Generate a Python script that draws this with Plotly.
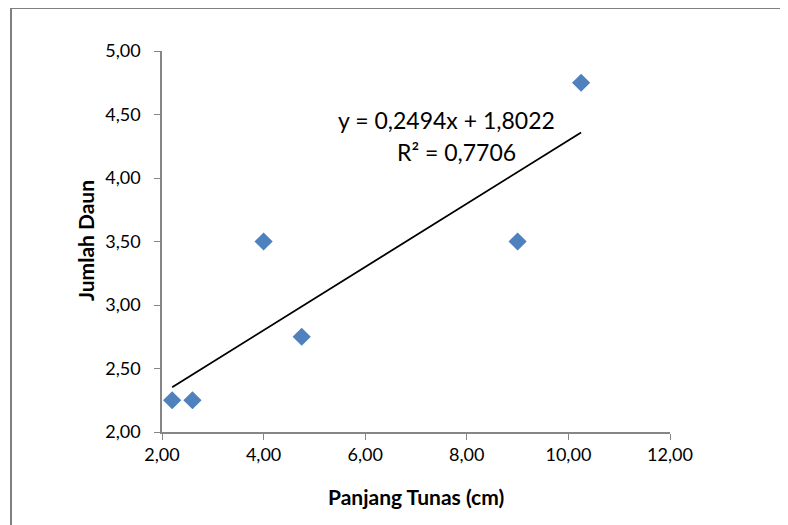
import numpy as np
import plotly.graph_objects as go

# Data
panjang_tunas = [2.2, 2.6, 4.0, 4.75, 9.0, 10.25]
jumlah_daun = [2.25, 2.25, 3.5, 2.75, 3.5, 4.75]
x_ticks = [2, 4, 6, 8, 10, 12]
y_ticks = [2.0, 2.5, 3.0, 3.5, 4.0, 4.5, 5.0]

slope, intercept = np.polyfit(panjang_tunas, jumlah_daun, 1)
trend_x = [min(panjang_tunas), max(panjang_tunas)]
trend_y = [slope * v + intercept for v in trend_x]

FONT = "Lato"
OFF = 8  # page body margin
W, H = 788, 525
# plot area in page pixels
PL, PR, PT, PB = 162, 670, 51, 432
L = PL - OFF
T = PT - OFF
R = W - (PR - OFF)
B = H - (PB - OFF)
pw, ph = PR - PL, PB - PT

def px_x(p):
    return (p - PL) / pw

def px_y(p):
    return (PB - p) / ph

fig = go.Figure()
fig.add_trace(go.Scatter(
    x=trend_x, y=trend_y, mode="lines",
    line=dict(color="black", width=1.8), showlegend=False, hoverinfo="skip"))
fig.add_trace(go.Scatter(
    x=panjang_tunas, y=jumlah_daun, mode="markers",
    marker=dict(symbol="diamond", size=14, color="#4F81BD",
                line=dict(width=0)), showlegend=False))

eq = "y = 0,2494x + 1,8022"
r2txt = "R² = 0,7706"
fig.add_annotation(x=px_x(446), y=px_y(120), xref="paper", yref="paper",
                   xanchor="center", yanchor="middle",
                   text=eq, showarrow=False, font=dict(family=FONT, size=23, color="black"))
fig.add_annotation(x=px_x(456), y=px_y(152), xref="paper", yref="paper",
                   xanchor="center", yanchor="middle",
                   text=r2txt, showarrow=False, font=dict(family=FONT, size=23, color="black"))

# axis titles
fig.add_annotation(x=px_x(416), y=px_y(496), xref="paper", yref="paper",
                   xanchor="center", yanchor="middle",
                   text="<b>Panjang Tunas (cm)</b>", showarrow=False,
                   font=dict(family=FONT, size=21, color="black"))
fig.add_annotation(x=px_x(85), y=px_y(241), xref="paper", yref="paper",
                   xanchor="center", yanchor="middle", textangle=-90,
                   text="<b>Jumlah Daun</b>", showarrow=False,
                   font=dict(family=FONT, size=21, color="black"))

# outer chart border (top and left)
fig.add_shape(type="path", xref="paper", yref="paper",
              path="M {} {} L {} {} L {} {}".format(px_x(11), px_y(560), px_x(11), px_y(8), px_x(820), px_y(8)),
              line=dict(color="#808080", width=2))

axis_common = dict(showgrid=False, zeroline=False, showline=True, linecolor="#868686",
                   linewidth=1.5, ticks="outside", ticklen=6, tickcolor="#868686",
                   tickfont=dict(family=FONT, size=18, color="black"))

fig.update_xaxes(range=[2, 12], tickvals=x_ticks, tickformat=".2f", **axis_common)
fig.update_yaxes(range=[2, 5], tickvals=y_ticks, tickformat=".2f",
                 ticklabelstandoff=10, **axis_common)

fig.update_layout(width=W, height=H, margin=dict(l=L, r=R, t=T, b=B, autoexpand=False),
                  plot_bgcolor="white", paper_bgcolor="white", separators=",.",
                  font=dict(family=FONT))

fig.write_html("out.html")
